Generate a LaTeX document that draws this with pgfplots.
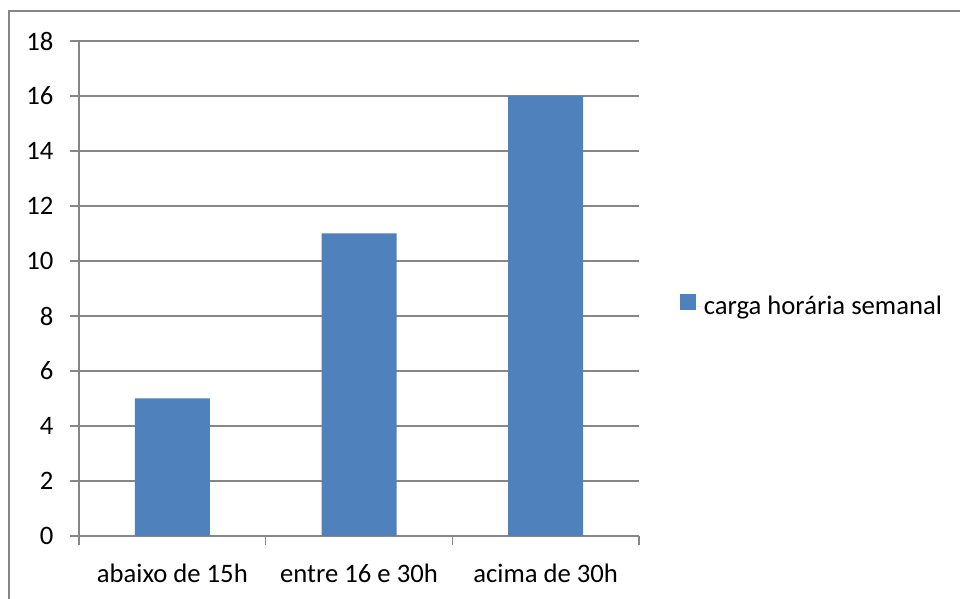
\documentclass[border=0pt]{standalone}
\usepackage{pgfplots}
\pgfplotsset{compat=1.18}
\usepackage{fontspec}
\setmainfont{Carlito}
\definecolor{barblue}{RGB}{79,129,189}
\definecolor{axgray}{RGB}{134,134,134}
\begin{document}
\begin{tikzpicture}[x=0.75pt,y=0.75pt]
\useasboundingbox[fill=white] (0,0) rectangle (960,599);
\draw[axgray,line width=1.2pt] (9,0) -- (9,588) -- (960,588);
\begin{axis}[
  at={(59.25pt,47.25pt)}, anchor=south west,
  scale only axis, width=420pt, height=371.25pt,
  xmin=-0.5, xmax=2.5, ymin=0, ymax=18,
  ytick={0,2,...,18},
  xtick={0,1,2},
  xticklabels={abaixo de 15h,entre 16 e 30h,acima de 30h},
  minor xtick={-0.5,0.5,1.5,2.5},
  axis x line=bottom, axis y line=left,
  axis line style={-, draw=axgray, line width=2.2pt},
  tick align=outside,
  major tick length=6.75pt, minor tick length=6.75pt,
  xtick style={draw=none},
  minor x tick style={draw=axgray, line width=1pt},
  ytick style={draw=axgray, line width=1.1pt},
  ymajorgrids, major grid style={draw=axgray, line width=1.1pt},
  /pgf/number format/assume math mode=true,
  tick label style={font=\fontsize{20}{24}\selectfont},
  yticklabel style={xshift=-9pt},
  xticklabel style={yshift=-11pt},
  ybar, bar width=56.25pt,
  legend style={at={(1.073,0.4646)}, anchor=west, draw=none, fill=none,
    font=\fontsize{20}{24}\selectfont, inner sep=0pt},
  legend image code/.code={\fill[barblue] (0pt,-3pt) rectangle (12pt,9pt); \path (0pt,0pt) -- (15.75pt,0pt);},
]
\addplot[fill=barblue, draw=none] coordinates {(0,5) (1,11) (2,16)};
\addlegendentry{carga horária semanal}
\end{axis}
\end{tikzpicture}
\end{document}
